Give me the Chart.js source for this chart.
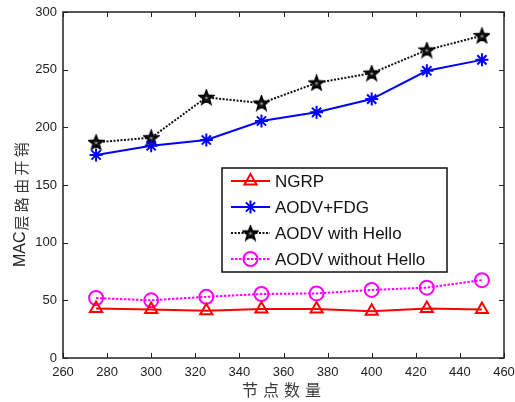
<!DOCTYPE html>
<html>
<head>
<meta charset="utf-8">
<script src="https://cdn.jsdelivr.net/npm/chart.js@4.4.1/dist/chart.umd.min.js"></script>
<style>
  html, body { margin: 0; padding: 0; background: #fff; }
  #wrap { width: 515px; height: 402px; }
</style>
</head>
<body>
<div id="wrap"><canvas id="chart" width="515" height="402"></canvas></div>
<script>
// ── Données ─────────────────────────────────────────────
const nodeCounts   = [275, 300, 325, 350, 375, 400, 425, 450];
const ngrp         = [43, 42, 41, 42.5, 42.5, 40.5, 43, 42];
const aodvFdg      = [176, 184, 189, 205.5, 213, 224.5, 249, 258.5];
const aodvHello    = [187, 191, 226, 221, 238.5, 247, 267, 279.5];
const aodvNoHello  = [52, 50, 53, 55.5, 56, 59, 61, 67.5];
const seriesNames  = ["NGRP", "AODV+FDG", "AODV with Hello", "AODV without Hello"];
const xTitle = "节点数量";
const yTitleLatin = "MAC";
const yTitleCjk = "层路由开销";
const xTicks = { min: 260, max: 460, step: 20 };
const yTicks = { min: 0, max: 300, step: 50 };

const FONT = "'Liberation Sans', Arial, 'Noto Sans CJK SC', sans-serif";
const CJK = "'Noto Sans CJK SC', sans-serif";
const AXIS = "#222";

// pentagramme noir (marqueur 'p' de MATLAB)
function pentagram(size) {
  const c = document.createElement("canvas");
  c.width = size; c.height = size;
  const g = c.getContext("2d");
  const cx = size / 2, cy = size / 2 + 0.5;
  const R = size / 2 - 1.2, r = R * 0.42;
  g.beginPath();
  for (let i = 0; i < 10; i++) {
    const rad = i % 2 === 0 ? R : r;
    const a = -Math.PI / 2 + i * Math.PI / 5;
    const px = cx + rad * Math.cos(a), py = cy + rad * Math.sin(a);
    i === 0 ? g.moveTo(px, py) : g.lineTo(px, py);
  }
  g.closePath();
  g.fillStyle = "#222";
  g.fill();
  g.lineWidth = 1.8;
  g.strokeStyle = "#000";
  g.stroke();
  // petit reflet clair au centre
  g.fillStyle = "#999";
  g.fillRect(cx - 1, cy - 1, 2, 2);
  return c;
}
const starImg = pentagram(17);

const pts = arr => arr.map((v, i) => ({ x: nodeCounts[i], y: v }));

const datasets = [
  { label: seriesNames[0], data: pts(ngrp), borderColor: "#ff0000", backgroundColor: "transparent",
    borderWidth: 2, pointStyle: "triangle", pointRadius: 7, pointBorderWidth: 2,
    pointBorderColor: "#ff0000", pointBackgroundColor: "transparent" },
  { label: seriesNames[1], data: pts(aodvFdg), borderColor: "#0000ff", backgroundColor: "transparent",
    borderWidth: 2, pointStyle: "star", pointRadius: 6.5, pointBorderWidth: 2,
    pointBorderColor: "#0000ff", pointBackgroundColor: "#0000ff" },
  { label: seriesNames[2], data: pts(aodvHello), borderColor: "#111", backgroundColor: "transparent",
    borderWidth: 2, borderDash: [2, 1.5], pointStyle: starImg, pointRadius: 8,
    pointBorderColor: "#000", pointBackgroundColor: "#000" },
  { label: seriesNames[3], data: pts(aodvNoHello), borderColor: "#ff00ff", backgroundColor: "transparent",
    borderWidth: 2, borderDash: [2.5, 1.5], pointStyle: "circle", pointRadius: 7, pointBorderWidth: 2,
    pointBorderColor: "#ff00ff", pointBackgroundColor: "transparent" },
];

// ── Cadre + graduations intérieures (style MATLAB) ─────────
const matlabBox = {
  id: "matlabBox",
  afterDatasetsDraw(chart) {
    const { ctx, chartArea: a, scales: { x, y } } = chart;
    const tl = 5;
    ctx.save();
    ctx.strokeStyle = AXIS;
    ctx.lineWidth = 1;
    ctx.beginPath();
    x.ticks.forEach(t => {
      const px = Math.round(x.getPixelForValue(t.value)) + 0.5;
      ctx.moveTo(px, a.bottom); ctx.lineTo(px, a.bottom - tl);
      ctx.moveTo(px, a.top); ctx.lineTo(px, a.top + tl);
    });
    y.ticks.forEach(t => {
      const py = Math.round(y.getPixelForValue(t.value)) + 0.5;
      ctx.moveTo(a.left, py); ctx.lineTo(a.left + tl, py);
      ctx.moveTo(a.right, py); ctx.lineTo(a.right - tl, py);
    });
    ctx.stroke();
    ctx.lineWidth = 1.5;
    ctx.strokeRect(a.left, a.top, a.right - a.left, a.bottom - a.top);
    ctx.restore();
  }
};

// ── Titres d'axes (caractères CJK espacés comme MATLAB) ────
const axisTitles = {
  id: "axisTitles",
  afterDraw(chart) {
    const { ctx, chartArea: a } = chart;
    ctx.save();
    // axe x
    ctx.fillStyle = "#3a3a3a";
    ctx.font = "16px " + CJK;
    ctx.textAlign = "center";
    ctx.textBaseline = "middle";
    const adv = 21;
    const cx = (a.left + a.right) / 2 - 2;
    [...xTitle].forEach((ch, i) => {
      ctx.fillText(ch, cx + (i - (xTitle.length - 1) / 2) * adv, 390);
    });
    // axe y
    ctx.translate(21, 267);
    ctx.rotate(-Math.PI / 2);
    ctx.fillStyle = "#222";
    ctx.textAlign = "left";
    ctx.font = "16px " + FONT;
    ctx.fillText(yTitleLatin, 0, 0);
    let xx = ctx.measureText(yTitleLatin).width + 1;
    ctx.fillStyle = "#3a3a3a";
    ctx.font = "15px " + CJK;
    [...yTitleCjk].forEach(ch => {
      ctx.fillText(ch, xx, 0);
      xx += 18.3;
    });
    ctx.restore();
  }
};

// ── Légende encadrée dans la zone de tracé ─────────────────
const boxLegend = {
  id: "boxLegend",
  afterDraw(chart) {
    const { ctx } = chart;
    const L = 222, T = 168, W = 225, H = 104;
    const rowH = 26, y0 = 181;
    ctx.save();
    ctx.fillStyle = "#fff";
    ctx.fillRect(L, T, W, H);
    ctx.strokeStyle = "#111";
    ctx.lineWidth = 1.5;
    ctx.strokeRect(L, T, W, H);
    chart.data.datasets.forEach((ds, i) => {
      const yy = y0 + i * rowH;
      ctx.save();
      ctx.strokeStyle = ds.borderColor;
      ctx.lineWidth = ds.borderWidth;
      ctx.setLineDash(ds.borderDash || []);
      ctx.beginPath();
      ctx.moveTo(231, yy); ctx.lineTo(270, yy);
      ctx.stroke();
      ctx.setLineDash([]);
      ctx.strokeStyle = ds.pointBorderColor;
      ctx.fillStyle = ds.pointBackgroundColor;
      ctx.lineWidth = ds.pointBorderWidth || 1;
      Chart.helpers.drawPoint(ctx, {
        pointStyle: ds.pointStyle, radius: ds.pointRadius,
        borderWidth: ds.pointBorderWidth || 1, rotation: 0
      }, 250.5, yy);
      ctx.restore();
      ctx.fillStyle = "#111";
      ctx.font = "17px " + FONT;
      ctx.textBaseline = "middle";
      ctx.textAlign = "left";
      ctx.fillText(ds.label, 275, yy + 1);
    });
    ctx.restore();
  }
};

new Chart(document.getElementById("chart"), {
  type: "line",
  data: { datasets },
  plugins: [matlabBox, axisTitles, boxLegend],
  options: {
    responsive: false,
    animation: false,
    layout: { padding: { top: 12, right: 11, left: 0, bottom: 0 } },
    plugins: { legend: { display: false }, tooltip: { enabled: false } },
    scales: {
      x: {
        type: "linear",
        min: xTicks.min, max: xTicks.max,
        grid: { display: false, drawTicks: false },
        border: { display: false },
        ticks: { stepSize: xTicks.step, color: AXIS, padding: 7, maxRotation: 0,
                 font: { family: FONT, size: 13 } },
        title: { display: false },
        afterFit(s) { s.height = 44; s.paddingLeft = 0; s.paddingRight = 0; },
      },
      y: {
        min: yTicks.min, max: yTicks.max,
        grid: { display: false, drawTicks: false },
        border: { display: false },
        ticks: { stepSize: yTicks.step, color: AXIS, padding: 6,
                 font: { family: FONT, size: 13 } },
        title: { display: false },
        afterFit(s) { s.width = 63; s.paddingTop = 0; s.paddingBottom = 0; },
      },
    },
  },
});
</script>
</body>
</html>
